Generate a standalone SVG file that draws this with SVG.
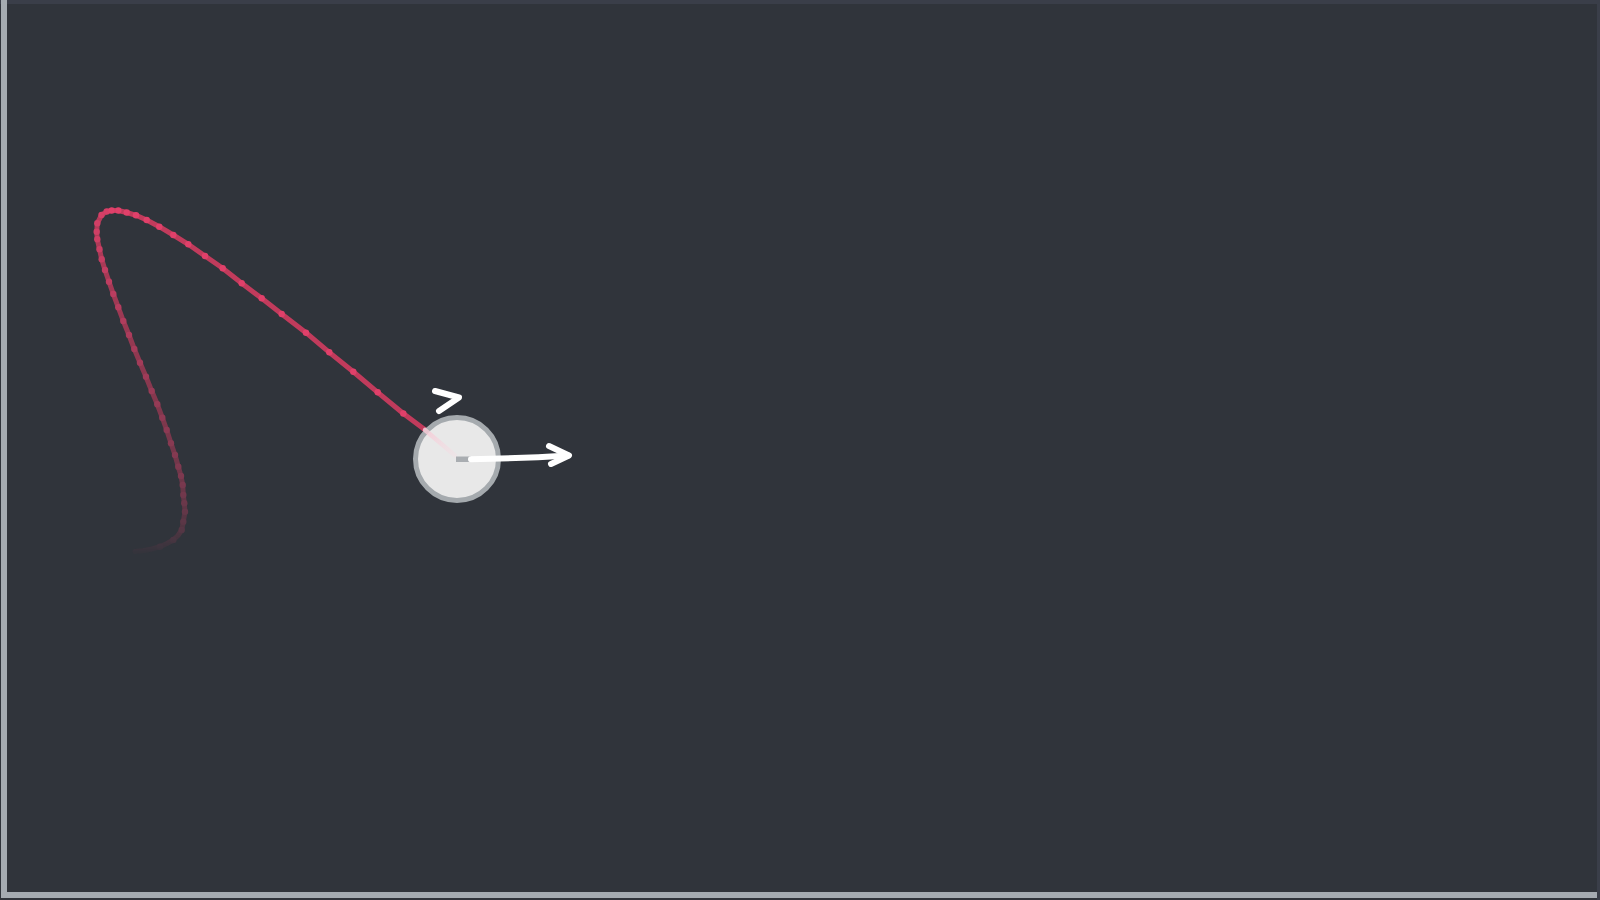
<svg xmlns="http://www.w3.org/2000/svg" width="1600" height="900" viewBox="0 0 1600 900">
  <defs>
    <style>
      .trail { fill: none; stroke: #c13b5c; stroke-width: 5; stroke-linecap: round; stroke-linejoin: round; }
      .beads circle { fill: #e0406a; }
      .white { fill: none; stroke: #ffffff; stroke-width: 6; stroke-linecap: round; stroke-linejoin: round; }
    </style>
    <linearGradient id="fadeTail" gradientUnits="userSpaceOnUse" x1="0" y1="553" x2="0" y2="208">
      <stop offset="0" stop-opacity="0.03" stop-color="#fff"/>
      <stop offset="0.06" stop-opacity="0.2" stop-color="#fff"/>
      <stop offset="0.2" stop-opacity="0.42" stop-color="#fff"/>
      <stop offset="1" stop-opacity="0.95" stop-color="#fff"/>
    </linearGradient>
    <mask id="tailMask" maskUnits="userSpaceOnUse" x="0" y="0" width="1600" height="900">
      <rect x="0" y="0" width="1600" height="900" fill="url(#fadeTail)"/>
    </mask>
    <linearGradient id="pinkFade" gradientUnits="userSpaceOnUse" x1="423" y1="428" x2="456" y2="456">
      <stop offset="0" stop-color="#f6c9d5" stop-opacity="0.9"/>
      <stop offset="1" stop-color="#f6dce3" stop-opacity="0.3"/>
    </linearGradient>
  </defs>

  <rect id="background" x="0" y="0" width="1600" height="900" fill="#30343b"/>
  <rect x="0" y="0" width="1600" height="4" fill="#3a3e49"/>
  <rect x="1597" y="0" width="3" height="900" fill="#3a3e49"/>
  <rect x="1" y="0" width="6" height="898" fill="#a5abb1"/>
  <rect x="1" y="892" width="1596" height="6" fill="#a5abb1"/>

  <g id="connectors">
    <g id="trail-tail" mask="url(#tailMask)">
      <polyline class="trail" points="135,551.5 143,550.7 152,549 160,546.7 167,543.5 173.3,540 178,535.5 181.7,530 183.3,521.7 185,511.7 184.3,503.3 183.3,495 182.7,485 181,476 178.3,466.7 175,455 171,443.3 166.7,430 162.3,417.7 157.3,404.3 151.7,391 146,376.7 140,362.7 134.3,349 129,335 123.3,321 118.3,307.3 113.3,294 109,281.7 105,270 101.7,259.3 99.5,249.3 97.3,239.3 96.7,231.7 97.3,223.3 101.5,215 106.7,211.5 111.7,210.5 118.3,210.5"/>
      <g class="beads">
        <circle cx="160" cy="546.7" r="3.2"/><circle cx="173.3" cy="540" r="3.2"/><circle cx="181.7" cy="530" r="3.2"/>
        <circle cx="183.3" cy="521.7" r="3.2"/><circle cx="185" cy="511.7" r="3.2"/><circle cx="184.3" cy="503.3" r="3.2"/>
        <circle cx="183.3" cy="495" r="3.2"/><circle cx="182.7" cy="485" r="3.2"/><circle cx="181" cy="476" r="3.2"/>
        <circle cx="178.3" cy="466.7" r="3.2"/><circle cx="175" cy="455" r="3.2"/><circle cx="171" cy="443.3" r="3.2"/>
        <circle cx="166.7" cy="430" r="3.2"/><circle cx="162.3" cy="417.7" r="3.2"/><circle cx="157.3" cy="404.3" r="3.2"/>
        <circle cx="151.7" cy="391" r="3.2"/><circle cx="146" cy="376.7" r="3.2"/><circle cx="140" cy="362.7" r="3.2"/>
        <circle cx="134.3" cy="349" r="3.2"/><circle cx="129" cy="335" r="3.2"/><circle cx="123.3" cy="321" r="3.2"/>
        <circle cx="118.3" cy="307.3" r="3.2"/><circle cx="113.3" cy="294" r="3.2"/><circle cx="109" cy="281.7" r="3.2"/>
        <circle cx="105" cy="270" r="3.2"/><circle cx="101.7" cy="259.3" r="3.2"/><circle cx="99.5" cy="249.3" r="3.2"/>
        <circle cx="97.3" cy="239.3" r="3.2"/><circle cx="96.7" cy="231.7" r="3.2"/><circle cx="97.3" cy="223.3" r="3.2"/>
        <circle cx="101.5" cy="215" r="3.2"/><circle cx="106.7" cy="211.5" r="3.2"/>
      </g>
    </g>
    <g id="trail-head">
      <polyline class="trail" points="111.7,210.5 118.3,210.5 126.7,212.5 136,215.3 146.7,220 159.3,226.7 173.3,235 188.3,244.3 205,256 222.7,268.3 241.7,283.3 261.7,298.3 281.7,314 306,332.7 329.3,352.3 353.3,371.7 377.7,392.3 403.3,413.5 423.3,428.5 456,456"/>
      <g class="beads">
        <circle cx="111.7" cy="210.5" r="3.2"/><circle cx="118.3" cy="210.5" r="3.2"/><circle cx="126.7" cy="212.5" r="3.2"/>
        <circle cx="136" cy="215.3" r="3.2"/><circle cx="146.7" cy="220" r="3.2"/><circle cx="159.3" cy="226.7" r="3.2"/>
        <circle cx="173.3" cy="235" r="3.2"/><circle cx="188.3" cy="244.3" r="3.2"/><circle cx="205" cy="256" r="3.2"/>
        <circle cx="222.7" cy="268.3" r="3.2"/><circle cx="241.7" cy="283.3" r="3.2"/><circle cx="261.7" cy="298.3" r="3.2"/>
        <circle cx="281.7" cy="314" r="3.2"/><circle cx="306" cy="332.7" r="3.2"/><circle cx="329.3" cy="352.3" r="3.2"/>
        <circle cx="353.3" cy="371.7" r="3.2"/><circle cx="377.7" cy="392.3" r="3.2"/><circle cx="403.3" cy="413.5" r="3.2"/>
      </g>
    </g>
  </g>

  <g id="agent">
    <circle cx="457" cy="459" r="41.5" fill="#e8e8e8" stroke="#a5aaae" stroke-width="5"/>
    <line x1="425" y1="430" x2="455" y2="455.5" stroke="url(#pinkFade)" stroke-width="4.5" stroke-linecap="round"/>
    <rect x="456" y="456.5" width="15" height="5.5" fill="#a9adb1"/>
  </g>

  <g id="velocity-arrow">
    <path class="white" d="M 471,459.2 Q 520,458.5 568,455.5"/>
    <polyline class="white" points="549,446 569,455.5 551,464"/>
  </g>

  <g id="heading-chevron">
    <polyline class="white" points="435,391 459,397.5 439,411"/>
  </g>
</svg>
